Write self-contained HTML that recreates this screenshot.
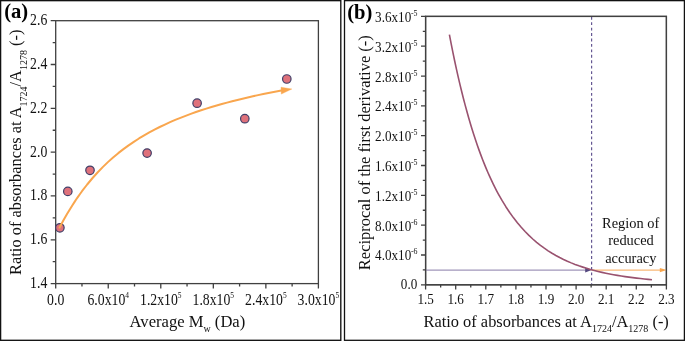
<!DOCTYPE html>
<html><head><meta charset="utf-8"><style>html,body{margin:0;padding:0;background:#fff;width:685px;height:341px;overflow:hidden}</style></head>
<body>
<svg width="685" height="341" viewBox="0 0 685 341" style="display:block;will-change:transform">
<rect width="685" height="341" fill="#fff"/>
<rect x="0.6" y="0.65" width="340.2" height="339.65" fill="none" stroke="#111" stroke-width="1.35"/>
<rect x="344.5" y="0.65" width="339.9" height="339.65" fill="none" stroke="#111" stroke-width="1.3"/>
<path d="M50.70,283.60H55.70M52.70,261.69H55.70M50.70,239.78H55.70M52.70,217.88H55.70M50.70,195.97H55.70M52.70,174.06H55.70M50.70,152.15H55.70M52.70,130.24H55.70M50.70,108.33H55.70M52.70,86.43H55.70M50.70,64.52H55.70M52.70,42.61H55.70M50.70,20.70H55.70M55.70,283.60V288.60M81.97,283.60V286.60M108.24,283.60V288.60M134.51,283.60V286.60M160.78,283.60V288.60M187.05,283.60V286.60M213.32,283.60V288.60M239.59,283.60V286.60M265.86,283.60V288.60M292.13,283.60V286.60M318.40,283.60V288.60" stroke="#404040" stroke-width="1.3" fill="none"/>
<rect x="55.7" y="20.7" width="262.70" height="262.90" fill="none" stroke="#404040" stroke-width="1.3"/>
<g style="font-family:'Liberation Serif',serif" font-size="16" fill="#111" text-anchor="end">
<text transform="translate(47.3,288.10) scale(0.86,1)">1.4</text>
<text transform="translate(47.3,244.28) scale(0.86,1)">1.6</text>
<text transform="translate(47.3,200.47) scale(0.86,1)">1.8</text>
<text transform="translate(47.3,156.65) scale(0.86,1)">2.0</text>
<text transform="translate(47.3,112.83) scale(0.86,1)">2.2</text>
<text transform="translate(47.3,69.02) scale(0.86,1)">2.4</text>
<text transform="translate(47.3,25.20) scale(0.86,1)">2.6</text>
</g>
<g style="font-family:'Liberation Serif',serif" font-size="16" fill="#111" text-anchor="middle">
<text transform="translate(55.70,304.5) scale(0.86,1)">0.0</text>
<text transform="translate(108.24,304.5) scale(0.86,1)">6.0x10<tspan font-size="8.7" dy="-7">4</tspan></text>
<text transform="translate(160.78,304.5) scale(0.86,1)">1.2x10<tspan font-size="8.7" dy="-7">5</tspan></text>
<text transform="translate(213.32,304.5) scale(0.86,1)">1.8x10<tspan font-size="8.7" dy="-7">5</tspan></text>
<text transform="translate(265.86,304.5) scale(0.86,1)">2.4x10<tspan font-size="8.7" dy="-7">5</tspan></text>
<text transform="translate(318.40,304.5) scale(0.86,1)">3.0x10<tspan font-size="8.7" dy="-7">5</tspan></text>
</g>
<text style="font-family:'Liberation Serif',serif" font-size="16.6" fill="#111" x="129.6" y="327.4">Average M<tspan font-size="10" dy="5">w</tspan><tspan dy="-5"> (Da)</tspan></text>
<text style="font-family:'Liberation Serif',serif" font-size="16.4" fill="#111" transform="translate(21,274.9) rotate(-90)">Ratio of absorbances at A<tspan font-size="10" dy="5.5">1724</tspan><tspan dy="-5.5">/A</tspan><tspan font-size="10" dy="5.5">1278</tspan><tspan dy="-5.5"> (-)</tspan></text>
<text style="font-family:'Liberation Serif',serif" font-size="20.6" font-weight="bold" fill="#000" x="4.2" y="18.1">(a)</text>
<circle cx="59.9" cy="227.8" r="4.25" fill="#df717b" stroke="#413f68" stroke-width="1.2"/>
<circle cx="67.8" cy="191.4" r="4.25" fill="#df717b" stroke="#413f68" stroke-width="1.2"/>
<circle cx="90" cy="170.3" r="4.25" fill="#df717b" stroke="#413f68" stroke-width="1.2"/>
<circle cx="147.1" cy="153.1" r="4.25" fill="#df717b" stroke="#413f68" stroke-width="1.2"/>
<circle cx="197.1" cy="103.2" r="4.25" fill="#df717b" stroke="#413f68" stroke-width="1.2"/>
<circle cx="244.8" cy="118.7" r="4.25" fill="#df717b" stroke="#413f68" stroke-width="1.2"/>
<circle cx="286.8" cy="79" r="4.25" fill="#df717b" stroke="#413f68" stroke-width="1.2"/>
<path d="M59.60,227.55 L61.45,224.02 L63.31,220.60 L65.16,217.28 L67.02,214.06 L68.87,210.93 L70.73,207.90 L72.58,204.95 L74.44,202.09 L76.29,199.31 L78.15,196.61 L80.00,193.98 L82.00,191.23 L87.18,184.49 L92.36,178.26 L97.54,172.48 L102.72,167.12 L107.90,162.13 L113.08,157.49 L118.26,153.16 L123.44,149.12 L128.62,145.34 L133.79,141.80 L138.97,138.47 L144.15,135.35 L149.33,132.40 L154.51,129.63 L159.69,127.01 L164.87,124.53 L170.05,122.18 L175.23,119.95 L180.41,117.83 L185.59,115.82 L190.77,113.90 L195.95,112.06 L201.13,110.31 L206.31,108.64 L211.49,107.04 L216.67,105.50 L221.85,104.03 L227.03,102.61 L232.21,101.25 L237.38,99.93 L242.56,98.67 L247.74,97.45 L252.92,96.28 L258.10,95.14 L263.28,94.05 L268.46,92.99 L273.64,91.96 L278.82,90.97 L284.00,90.01" fill="none" stroke="#f9a64e" stroke-width="2" stroke-linecap="round" stroke-linejoin="round"/>
<path d="M281.0,87.2 L291.8,89.0 L281.3,94.1 Z" fill="#f9a64e" stroke="#f9a64e" stroke-width="0.4" stroke-linejoin="round"/>
<path d="M421.00,16.40H425.60M422.80,31.31H425.60M421.00,46.22H425.60M422.80,61.13H425.60M421.00,76.04H425.60M422.80,90.96H425.60M421.00,105.87H425.60M422.80,120.78H425.60M421.00,135.69H425.60M422.80,150.60H425.60M421.00,165.51H425.60M422.80,180.42H425.60M421.00,195.33H425.60M422.80,210.24H425.60M421.00,225.16H425.60M422.80,240.07H425.60M421.00,254.98H425.60M422.80,269.89H425.60M421.00,284.80H425.60M425.60,284.80V289.40M440.65,284.80V287.60M455.70,284.80V289.40M470.75,284.80V287.60M485.80,284.80V289.40M500.85,284.80V287.60M515.90,284.80V289.40M530.95,284.80V287.60M546.00,284.80V289.40M561.05,284.80V287.60M576.10,284.80V289.40M591.15,284.80V287.60M606.20,284.80V289.40M621.25,284.80V287.60M636.30,284.80V289.40M651.35,284.80V287.60M666.40,284.80V289.40" stroke="#404040" stroke-width="1.3" fill="none"/>
<rect x="425.6" y="16.4" width="240.80" height="268.40" fill="none" stroke="#404040" stroke-width="1.3"/>
<g style="font-family:'Liberation Serif',serif" font-size="14.3" fill="#111" text-anchor="end">
<text transform="translate(417.3,289.00) scale(0.92,1)">0.0</text>
<text transform="translate(417.5,260.48) scale(0.92,1)">4.0x10<tspan font-size="8.6" dy="-6" dx="-0.3">-6</tspan></text>
<text transform="translate(417.5,230.66) scale(0.92,1)">8.0x10<tspan font-size="8.6" dy="-6" dx="-0.3">-6</tspan></text>
<text transform="translate(417.5,200.83) scale(0.92,1)">1.2x10<tspan font-size="8.6" dy="-6" dx="-0.3">-5</tspan></text>
<text transform="translate(417.5,171.01) scale(0.92,1)">1.6x10<tspan font-size="8.6" dy="-6" dx="-0.3">-5</tspan></text>
<text transform="translate(417.5,141.19) scale(0.92,1)">2.0x10<tspan font-size="8.6" dy="-6" dx="-0.3">-5</tspan></text>
<text transform="translate(417.5,111.37) scale(0.92,1)">2.4x10<tspan font-size="8.6" dy="-6" dx="-0.3">-5</tspan></text>
<text transform="translate(417.5,81.54) scale(0.92,1)">2.8x10<tspan font-size="8.6" dy="-6" dx="-0.3">-5</tspan></text>
<text transform="translate(417.5,51.72) scale(0.92,1)">3.2x10<tspan font-size="8.6" dy="-6" dx="-0.3">-5</tspan></text>
<text transform="translate(417.5,21.90) scale(0.92,1)">3.6x10<tspan font-size="8.6" dy="-6" dx="-0.3">-5</tspan></text>
</g>
<g style="font-family:'Liberation Serif',serif" font-size="14.3" fill="#111" text-anchor="middle">
<text transform="translate(425.60,304) scale(0.92,1)">1.5</text>
<text transform="translate(455.70,304) scale(0.92,1)">1.6</text>
<text transform="translate(485.80,304) scale(0.92,1)">1.7</text>
<text transform="translate(515.90,304) scale(0.92,1)">1.8</text>
<text transform="translate(546.00,304) scale(0.92,1)">1.9</text>
<text transform="translate(576.10,304) scale(0.92,1)">2.0</text>
<text transform="translate(606.20,304) scale(0.92,1)">2.1</text>
<text transform="translate(636.30,304) scale(0.92,1)">2.2</text>
<text transform="translate(666.40,304) scale(0.92,1)">2.3</text>
</g>
<text style="font-family:'Liberation Serif',serif" font-size="16.4" fill="#111" x="423.5" y="326.9">Ratio of absorbances at A<tspan font-size="10" dy="5.5">1724</tspan><tspan dy="-5.5">/A</tspan><tspan font-size="10" dy="5.5">1278</tspan><tspan dy="-5.5"> (-)</tspan></text>
<text style="font-family:'Liberation Serif',serif" font-size="16.5" fill="#111" transform="translate(370,270.2) rotate(-90)">Reciprocal of the first derivative (-)</text>
<text style="font-family:'Liberation Serif',serif" font-size="20.6" font-weight="bold" fill="#000" x="347.2" y="18.9">(b)</text>
<g style="font-family:'Liberation Serif',serif" font-size="14.4" fill="#111" text-anchor="middle"><text x="630.7" y="227.5">Region of</text><text x="631" y="245">reduced</text><text x="630.8" y="262.5">accuracy</text></g>
<path d="M591.6,16.4V284.8" stroke="#655893" stroke-width="1.2" stroke-dasharray="2.9,2.54" stroke-dashoffset="-0.35" fill="none"/>
<path d="M425.6,270.1H586" stroke="#a096ba" stroke-width="1.3" fill="none"/>
<path d="M585.2,267.8 L591.6,270.1 L585.2,272.4 Z" fill="#54487e"/>
<path d="M591.6,270.1H661" stroke="#f9b877" stroke-width="1.3" fill="none"/>
<path d="M659.8,267.9 L666.8,270.1 L659.8,272.3 Z" fill="#f9a64e"/>
<path d="M449.40,34.54 L451.14,43.60 L452.89,52.33 L454.63,60.72 L456.38,68.80 L458.12,76.57 L459.87,84.06 L461.61,91.26 L463.36,98.20 L465.10,104.88 L466.85,111.31 L468.59,117.50 L470.34,123.46 L472.08,129.20 L473.83,134.72 L475.57,140.05 L477.32,145.17 L479.06,150.11 L480.81,154.86 L482.55,159.44 L484.30,163.85 L486.04,168.10 L487.79,172.19 L489.53,176.13 L491.28,179.93 L493.02,183.59 L494.77,187.12 L496.51,190.52 L498.26,193.79 L500.00,196.94 L502.00,200.42 L505.85,206.70 L509.69,212.50 L513.54,217.85 L517.38,222.78 L521.23,227.33 L525.08,231.53 L528.92,235.41 L532.77,238.99 L536.62,242.30 L540.46,245.36 L544.31,248.19 L548.15,250.81 L552.00,253.23 L555.85,255.46 L559.69,257.54 L563.54,259.45 L567.38,261.23 L571.23,262.88 L575.08,264.40 L578.92,265.81 L582.77,267.12 L586.62,268.34 L590.46,269.47 L594.31,270.52 L598.15,271.49 L602.00,272.39 L605.85,273.23 L609.69,274.01 L613.54,274.73 L617.38,275.41 L621.23,276.03 L625.08,276.62 L628.92,277.16 L632.77,277.66 L636.62,278.14 L640.46,278.57 L644.31,278.98 L648.15,279.36 L652.00,279.72" fill="none" stroke="#99526f" stroke-width="1.6" stroke-linejoin="round"/>
<rect x="425.6" y="16.4" width="240.80" height="268.40" fill="none" stroke="#404040" stroke-width="1.3"/>
</svg>
</body></html>
